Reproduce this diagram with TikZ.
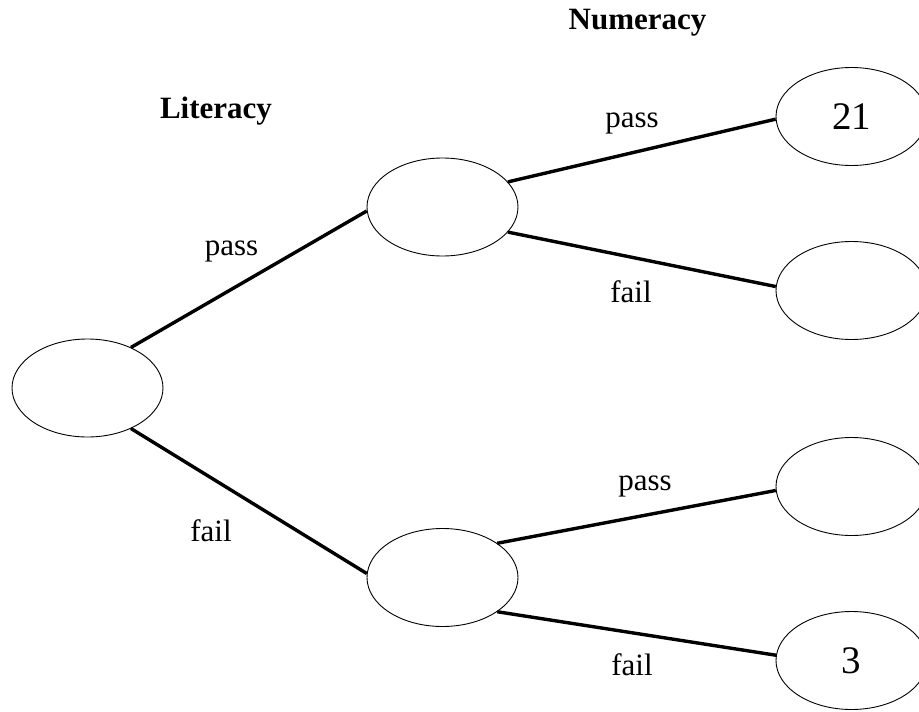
\documentclass[tikz,border=0pt]{standalone}
\usepackage{fontspec}
\setmainfont{Liberation Serif}
\usetikzlibrary{shapes.geometric}

\begin{document}
\begin{tikzpicture}[x=1pt, y=-1pt,
    blob/.style={ellipse, draw, line width=0.9pt, inner sep=0pt, minimum width=151pt, minimum height=98pt, font=\fontsize{39}{44}\selectfont},
    branch/.style={line width=3.4pt},
    lab/.style={anchor=base, inner sep=0pt, font=\fontsize{31}{36}\selectfont},
    head/.style={anchor=base, inner sep=0pt, font=\fontsize{31}{36}\selectfont\bfseries}]

    % Рамка картинки
    \useasboundingbox (0,0) rectangle (919,712);

    % Заголовки уровней
    \node[head] (numhead) at (637.5,30) {Numeracy};
    \node[head] (lithead) at (216,118) {Literacy};

    % Эллипсы дерева
    \node[blob] (root) at (87.5,388) {};
    \node[blob] (litpass) at (442.5,207) {};
    \node[blob] (litfail) at (442.5,577.5) {};
    \node[blob] (pp) at (851.5,116.5) {21};
    \node[blob] (pf) at (851.5,290.5) {};
    \node[blob] (fp) at (851.5,486.5) {};
    \node[blob] (ff) at (851.5,660.5) {3};

    % Ветви
    \draw[branch] (root.43) -- (litpass.183);
    \draw[branch] (root.-43) -- (litfail.177);
    \draw[branch] (litpass.21) -- (pp.182);
    \draw[branch] (litpass.-21) -- (pf.177);
    \draw[branch] (litfail.32) -- (fp.183);
    \draw[branch] (litfail.-32) -- (ff.176);

    % Подписи ветвей
    \node[lab] (l1) at (231.5,255) {pass}; % literacy pass
    \node[lab] (l2) at (211,541.5) {fail}; % literacy fail
    \node[lab] (l3) at (632,127) {pass};
    \node[lab] (l4) at (631,302) {fail};
    \node[lab] (l5) at (645,490) {pass};
    \node[lab] (l6) at (632,675) {fail};
\end{tikzpicture}
\end{document}
